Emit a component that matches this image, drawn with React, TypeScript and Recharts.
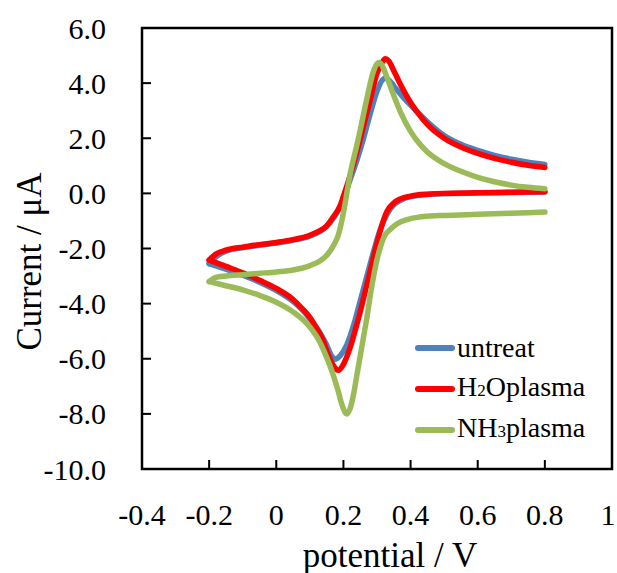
import { LineChart, Line, XAxis, YAxis, ReferenceArea } from 'recharts';

// potential (V) / current (µA). Forward scan runs -0.2 -> 0.8, reverse scan 0.8 -> -0.2
const untreatForwardE = [-0.2, -0.18, -0.15, -0.1, -0.05, 0, 0.05, 0.1, 0.13, 0.15, 0.17, 0.19, 0.2, 0.22, 0.24, 0.26, 0.28, 0.3, 0.315, 0.325, 0.335, 0.35, 0.37, 0.4, 0.42, 0.45, 0.5, 0.55, 0.6, 0.65, 0.7, 0.75, 0.8];
const untreatForwardI = [-2.55, -2.3, -2.1, -1.97, -1.88, -1.8, -1.7, -1.55, -1.38, -1.2, -0.9, -0.5, -0.2, 0.5, 1.2, 2.0, 2.9, 3.7, 4.1, 4.18, 4.12, 3.9, 3.6, 3.2, 2.95, 2.6, 2.1, 1.78, 1.56, 1.38, 1.24, 1.13, 1.05];
const untreatReverseE = [0.8, 0.7, 0.6, 0.5, 0.45, 0.42, 0.4, 0.37, 0.35, 0.33, 0.31, 0.29, 0.27, 0.25, 0.23, 0.21, 0.19, 0.175, 0.165, 0.15, 0.13, 0.1, 0.075, 0.05, 0, -0.05, -0.1, -0.15, -0.2];
const untreatReverseI = [0.05, 0.03, 0.01, -0.01, -0.04, -0.08, -0.12, -0.25, -0.42, -0.75, -1.3, -2.1, -3.0, -3.9, -4.8, -5.5, -5.9, -6.02, -5.9, -5.5, -5.05, -4.55, -4.2, -3.92, -3.52, -3.22, -2.97, -2.75, -2.55];

const h2oForwardE = [-0.2, -0.18, -0.15, -0.1, -0.05, 0, 0.05, 0.1, 0.13, 0.15, 0.17, 0.19, 0.2, 0.22, 0.24, 0.26, 0.28, 0.3, 0.315, 0.325, 0.335, 0.35, 0.37, 0.4, 0.42, 0.45, 0.5, 0.55, 0.6, 0.65, 0.7, 0.75, 0.8];
const h2oForwardI = [-2.42, -2.2, -2.06, -1.95, -1.86, -1.78, -1.68, -1.52, -1.35, -1.18, -0.85, -0.45, -0.1, 0.65, 1.5, 2.45, 3.4, 4.35, 4.75, 4.88, 4.8, 4.45, 3.95, 3.3, 2.95, 2.5, 2.0, 1.68, 1.45, 1.27, 1.13, 1.02, 0.94];
const h2oReverseE = [0.8, 0.7, 0.6, 0.5, 0.45, 0.42, 0.4, 0.37, 0.35, 0.33, 0.32, 0.3, 0.29, 0.27, 0.25, 0.24, 0.22, 0.2, 0.185, 0.17, 0.15, 0.14, 0.12, 0.1, 0.075, 0.05, 0, -0.05, -0.1, -0.15, -0.2];
const h2oReverseI = [0.06, 0.04, 0.02, 0.0, -0.03, -0.06, -0.1, -0.2, -0.35, -0.65, -0.95, -1.8, -2.3, -3.3, -4.3, -4.75, -5.6, -6.2, -6.42, -6.25, -5.7, -5.35, -4.9, -4.5, -4.15, -3.85, -3.45, -3.15, -2.88, -2.65, -2.42];

const nh3ForwardE = [-0.2, -0.18, -0.15, -0.1, -0.05, 0, 0.05, 0.1, 0.13, 0.15, 0.17, 0.185, 0.2, 0.21, 0.22, 0.24, 0.25, 0.27, 0.29, 0.3, 0.307, 0.315, 0.33, 0.35, 0.37, 0.4, 0.42, 0.45, 0.5, 0.55, 0.6, 0.65, 0.7, 0.75, 0.8];
const nh3ForwardI = [-3.2, -3.05, -3.0, -2.95, -2.9, -2.85, -2.78, -2.62, -2.45, -2.25, -1.9, -1.5, -0.7, 0.0, 0.7, 1.75, 2.3, 3.45, 4.45, 4.7, 4.75, 4.65, 4.2, 3.55, 2.95, 2.25, 1.9, 1.5, 1.08, 0.8, 0.58, 0.42, 0.3, 0.22, 0.17];
const nh3ReverseE = [0.8, 0.7, 0.6, 0.5, 0.45, 0.42, 0.39, 0.36, 0.34, 0.32, 0.31, 0.3, 0.29, 0.28, 0.27, 0.26, 0.25, 0.24, 0.23, 0.22, 0.21, 0.195, 0.185, 0.17, 0.15, 0.13, 0.1, 0.05, 0, -0.05, -0.1, -0.15, -0.2];
const nh3ReverseI = [-0.68, -0.72, -0.76, -0.8, -0.83, -0.87, -0.95, -1.1, -1.3, -1.6, -1.95, -2.4, -3.0, -3.7, -4.5, -5.2, -5.9, -6.6, -7.3, -7.8, -8.0, -7.65, -7.2, -6.6, -5.95, -5.4, -4.85, -4.3, -3.95, -3.7, -3.5, -3.35, -3.2];

const potentialTicks = [-0.4, -0.2, 0, 0.2, 0.4, 0.6, 0.8, 1];
const currentTicks = [-10, -8, -6, -4, -2, 0, 2, 4, 6];

// points sorted by potential so a monotone-x curve can smooth each scan branch
const toPoints = (xs: number[], ys: number[]) =>
  xs.map((x, i) => ({ x, y: ys[i] })).sort((a, b) => a.x - b.x);

const series = [
  { key: 'untreat', name: 'untreat', sub: '', rest: '', color: '#4F81BD',
    forward: toPoints(untreatForwardE, untreatForwardI), reverse: toPoints(untreatReverseE, untreatReverseI) },
  { key: 'h2o', name: 'H', sub: '2', rest: 'Oplasma', color: '#FF0000',
    forward: toPoints(h2oForwardE, h2oForwardI), reverse: toPoints(h2oReverseE, h2oReverseI) },
  { key: 'nh3', name: 'NH', sub: '3', rest: 'plasma', color: '#9BBB59',
    forward: toPoints(nh3ForwardE, nh3ForwardI), reverse: toPoints(nh3ReverseE, nh3ReverseI) },
];

const FONT = '"Liberation Serif", "Times New Roman", serif';
const Y_GAP = 36;
const X_GAP = 30;
const TICK_LEN = 9;

function YTick(props: any) {
  const { x, y, payload } = props;
  return (
    <g>
      <line x1={x + Y_GAP} x2={x + Y_GAP + TICK_LEN} y1={y} y2={y} stroke="#000" strokeWidth={2} />
      <text x={x} y={y} textAnchor="end" dominantBaseline="central" fontFamily={FONT} fontSize={30} fill="#000">
        {payload.value.toFixed(1)}
      </text>
    </g>
  );
}

function XTick(props: any) {
  const { x, y, payload } = props;
  const last = payload.value === potentialTicks[potentialTicks.length - 1];
  return (
    <g>
      <line x1={x} x2={x} y1={y - X_GAP} y2={y - X_GAP - TICK_LEN} stroke="#000" strokeWidth={2} />
      <text x={last ? x - 4 : x} y={y + 15} textAnchor="middle" dominantBaseline="central" fontFamily={FONT} fontSize={30} fill="#000">
        {String(payload.value)}
      </text>
    </g>
  );
}

function XTitle(props: any) {
  const { viewBox } = props;
  const cx = viewBox.x + viewBox.width / 2 + 13;
  return (
    <text x={cx} y={viewBox.y + 86} textAnchor="middle" dominantBaseline="central" fontFamily={FONT} fontSize={35} fill="#000">
      potential / V
    </text>
  );
}

function YTitle(props: any) {
  const { viewBox } = props;
  const cx = viewBox.x + 29;
  const cy = viewBox.y + viewBox.height / 2 + 13;
  return (
    <text x={cx} y={cy} transform={`rotate(-90 ${cx} ${cy})`} textAnchor="middle" dominantBaseline="central" fontFamily={FONT} fontSize={35} fill="#000">
      Current / μA
    </text>
  );
}

function LegendBox() {
  return (
    <div style={{ position: 'absolute', left: 415, top: 327, fontFamily: FONT, fontSize: 28, color: '#000' }}>
      {series.map((s) => (
        <div key={s.key} style={{ display: 'flex', alignItems: 'center', height: 41 }}>
          <span style={{ display: 'inline-block', width: 40, height: 6, borderRadius: 3, background: s.color, marginRight: 2 }} />
          <span style={{ lineHeight: '41px' }}>
            {s.name}
            {s.sub && <span style={{ fontSize: 17 }}>{s.sub}</span>}
            {s.rest}
          </span>
        </div>
      ))}
    </div>
  );
}

export default function App() {
  return (
    <div style={{ position: 'absolute', left: 0, top: 0, width: 617, height: 573, background: '#fff' }}>
      <LineChart width={617} height={573} margin={{ top: 28, right: 5, bottom: 0, left: 0 }}>
        <XAxis
          type="number"
          dataKey="x"
          domain={[-0.4, 1]}
          ticks={potentialTicks}
          tickSize={0}
          tickMargin={X_GAP}
          tick={<XTick />}
          axisLine={false}
          tickLine={false}
          height={104}
          allowDuplicatedCategory={false}
          label={<XTitle />}
        />
        <YAxis
          type="number"
          dataKey="y"
          domain={[-10, 6]}
          ticks={currentTicks}
          tickSize={0}
          tickMargin={Y_GAP}
          tick={<YTick />}
          axisLine={false}
          tickLine={false}
          width={142}
          label={<YTitle />}
        />
        <ReferenceArea x1={-0.4} x2={1} y1={-10} y2={6} fill="none" stroke="#000" strokeWidth={2.5} ifOverflow="visible" />
        {series.flatMap((s) =>
          [s.forward, s.reverse].map((pts, j) => (
            <Line
              key={`${s.key}-${j}`}
              data={pts}
              dataKey="y"
              type="monotone"
              stroke={s.color}
              strokeWidth={5.5}
              strokeLinejoin="round"
              strokeLinecap="round"
              dot={false}
              activeDot={false}
              isAnimationActive={false}
            />
          ))
        )}
      </LineChart>
      <LegendBox />
    </div>
  );
}
